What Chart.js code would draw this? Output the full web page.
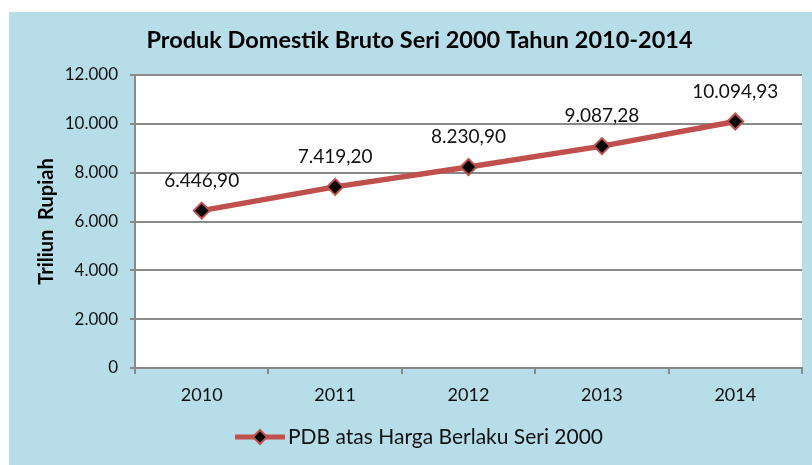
<!DOCTYPE html>
<html>
<head>
<meta charset="utf-8">
<script src="https://cdn.jsdelivr.net/npm/chart.js@4.4.1/dist/chart.umd.min.js"></script>
<style>
  html, body { margin: 0; padding: 0; background: #ffffff; }
  #wrap { position: absolute; left: 9px; top: 12px; width: 803px; height: 453px; background: #b7dde8; }
</style>
</head>
<body>
<div id="wrap"><canvas id="pdbChart"></canvas></div>
<script>
// === Data ===
const years = ["2010", "2011", "2012", "2013", "2014"];
const pdbValues = [6446.90, 7419.20, 8230.90, 9087.28, 10094.93];
const seriesLabel = "PDB atas Harga Berlaku Seri 2000";
const chartTitle = "Produk Domestik Bruto Seri 2000 Tahun 2010-2014";
const yTicks = [0, 2000, 4000, 6000, 8000, 10000, 12000];

const RED = "#c0504d";
const GRID = "#8a8a8a";
const FONT = "Lato, 'Open Sans', sans-serif";

// 6446.9 -> "6.446,90"
function fmtId(v, dec) {
  const parts = v.toFixed(dec).split(".");
  const intPart = parts[0].replace(/\B(?=(\d{3})+(?!\d))/g, ".");
  return parts[1] ? intPart + "," + parts[1] : intPart;
}

// white plot area + title (title sits a bit right of centre, like the original)
const plotBg = {
  id: "plotBg",
  beforeDraw(chart) {
    const a = chart.chartArea, ctx = chart.ctx;
    ctx.save();
    ctx.fillStyle = "#ffffff";
    ctx.fillRect(a.left, a.top, a.right - a.left, a.bottom - a.top);
    ctx.font = "bold 23.5px " + FONT;
    ctx.fillStyle = "#000";
    ctx.textAlign = "center";
    ctx.textBaseline = "middle";
    ctx.fillText(chartTitle, 410.5, 28.5);
    ctx.restore();
  }
};

// values above the points
const valueLabels = {
  id: "valueLabels",
  afterDatasetsDraw(chart) {
    const ctx = chart.ctx;
    const meta = chart.getDatasetMeta(0);
    ctx.save();
    ctx.font = "19px " + FONT;
    ctx.fillStyle = "#111";
    ctx.textAlign = "center";
    ctx.textBaseline = "middle";
    meta.data.forEach((pt, i) => {
      ctx.fillText(fmtId(pdbValues[i], 2), pt.x, pt.y - 30);
    });
    ctx.restore();
  }
};

// legend: line + diamond + text, at the bottom
const lineLegend = {
  id: "lineLegend",
  afterDraw(chart) {
    const ctx = chart.ctx;
    const y = chart.height - 28;
    const x0 = 226, x1 = 276, cx = 251;
    ctx.save();
    ctx.strokeStyle = RED;
    ctx.lineWidth = 5;
    ctx.beginPath();
    ctx.moveTo(x0, y);
    ctx.lineTo(x1, y);
    ctx.stroke();
    ctx.beginPath();
    ctx.moveTo(cx, y - 7);
    ctx.lineTo(cx + 7, y);
    ctx.lineTo(cx, y + 7);
    ctx.lineTo(cx - 7, y);
    ctx.closePath();
    ctx.fillStyle = "#000";
    ctx.fill();
    ctx.lineWidth = 2;
    ctx.stroke();
    ctx.font = "21px " + FONT;
    ctx.fillStyle = "#111";
    ctx.textAlign = "left";
    ctx.textBaseline = "middle";
    ctx.fillText(chart.data.datasets[0].label, 279, y);
    ctx.restore();
  }
};

new Chart(document.getElementById("pdbChart"), {
  type: "line",
  data: {
    labels: years,
    datasets: [{
      label: seriesLabel,
      data: pdbValues,
      borderColor: RED,
      borderWidth: 5.5,
      tension: 0,
      pointStyle: "rectRot",
      pointRadius: 8,
      pointHoverRadius: 8,
      pointBackgroundColor: "#000",
      pointBorderColor: RED,
      pointBorderWidth: 2
    }]
  },
  options: {
    responsive: true,
    maintainAspectRatio: false,
    animation: false,
    layout: { padding: { left: 0, right: 10, top: 0, bottom: 0 } },
    plugins: {
      legend: { display: false },
      tooltip: { enabled: false },
      title: {
        // keeps the space; text itself is drawn by plotBg
        display: true,
        text: chartTitle,
        color: "rgba(0,0,0,0)",
        font: { family: FONT, size: 24, weight: "bold" },
        padding: { top: 14, bottom: 20.2 }
      }
    },
    scales: {
      x: {
        offset: true,
        grid: {
          offset: true,
          drawOnChartArea: false,
          drawTicks: true,
          tickLength: 6,
          color: GRID,
          lineWidth: 2
        },
        border: { display: true, color: GRID, width: 2 },
        ticks: { color: "#111", font: { family: FONT, size: 18 }, padding: 10 },
        afterFit: s => { s.height = 97; }
      },
      y: {
        min: 0,
        max: 12000,
        afterBuildTicks: s => { s.ticks = yTicks.map(v => ({ value: v })); },
        grid: { color: GRID, lineWidth: 2, tickLength: 5 },
        border: { display: true, color: GRID, width: 2 },
        ticks: {
          color: "#111",
          font: { family: FONT, size: 17 },
          padding: 12,
          callback: v => fmtId(v, 0)
        },
        title: {
          display: true,
          text: "Triliun  Rupiah",
          color: "#000",
          font: { family: FONT, size: 20, weight: "bold" },
          padding: { top: 26, bottom: 0 }
        },
        afterFit: s => { s.width = 126; }
      }
    }
  },
  plugins: [plotBg, valueLabels, lineLegend]
});
</script>
</body>
</html>
